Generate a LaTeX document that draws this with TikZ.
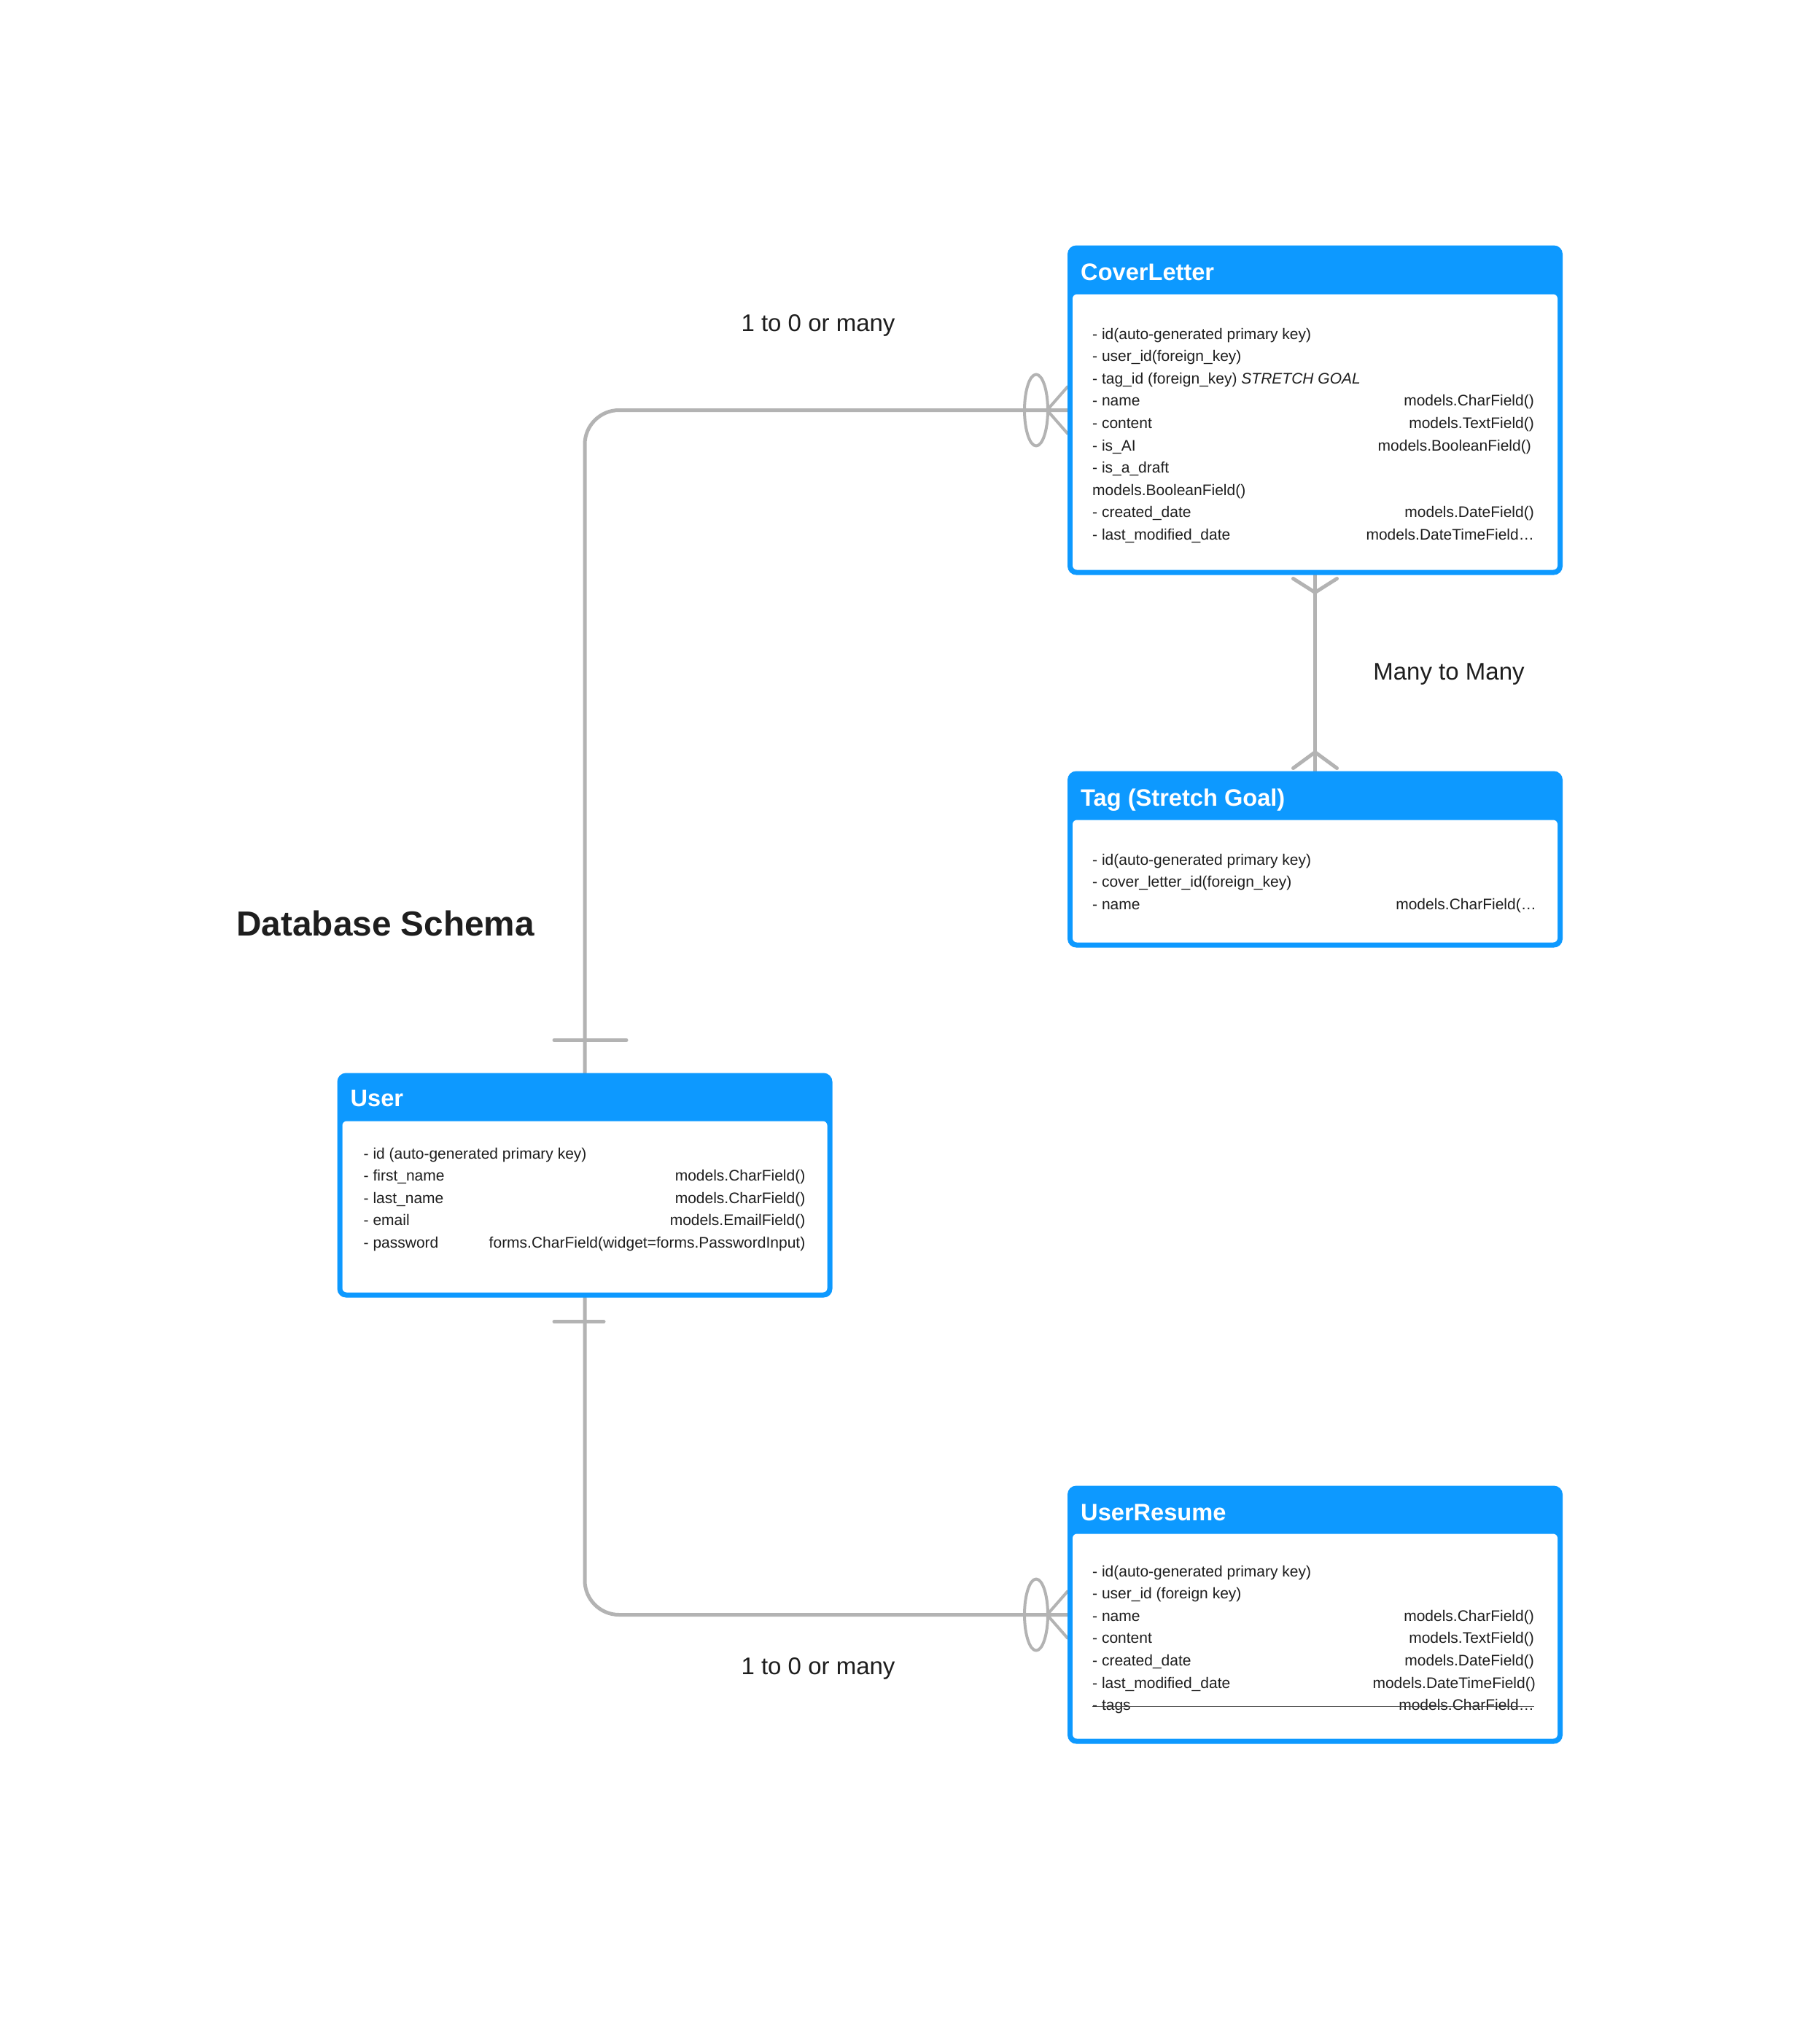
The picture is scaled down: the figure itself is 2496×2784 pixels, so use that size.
\documentclass[tikz,border=0pt]{standalone}
\usepackage{fontspec}
\setmainfont{Liberation Sans}
\usetikzlibrary{positioning,calc,backgrounds}

\definecolor{erblue}{HTML}{0D99FF}
\definecolor{linkgray}{HTML}{B3B3B3}
\definecolor{inkblack}{HTML}{1E1E1E}

\tikzset{
    table/.style={rectangle, fill=erblue, rounded corners=12pt, inner sep=0, outer sep=0, minimum width=679pt},
    table title/.style={anchor=base west, inner sep=0, text=white, font=\fontsize{32.6}{36}\selectfont\bfseries},
    field/.style={anchor=west, inner sep=0, text=inkblack, text height=22.6pt, text depth=7.6pt, font=\fontsize{21}{30}\selectfont},
    next field/.style={field, below right=0pt and 0pt of #1.south west},
    ftype/.style={field, anchor=east},
    link/.style={draw=linkgray, line width=5pt, line cap=round, line join=round},
    note/.style={text=inkblack, font=\fontsize{33}{40}\selectfont}
    }

\begin{document}
\begin{tikzpicture}[x=1pt, y=-1pt]
                \useasboundingbox (0,0) rectangle (2496,2784);

                % tables
                \node(cover)[table, minimum height=452pt] at (1803.5,562.5) {};
                \fill[white, rounded corners=6pt] ($(cover.north west)+(7,67)$) rectangle ($(cover.south east)+(-7,-7)$);
                \node[table title] at ($(cover.north west)+(18,48)$) {CoverLetter};
                \node[field] (cl1) at ($(cover.north west)+(34,121)$) {- id(auto-generated primary key)};
                \node[next field=cl1] (cl2) {- user\_id(foreign\_key)};
                \node[next field=cl2] (cl3) {- tag\_id (foreign\_key) \textit{STRETCH GOAL}};
                \node[next field=cl3] (cl4) {- name};
                \node[next field=cl4] (cl5) {- content};
                \node[next field=cl5] (cl6) {- is\_AI};
                \node[next field=cl6] (cl7) {- is\_a\_draft};
                \node[next field=cl7] (cl8) {models.BooleanField()};
                \node[next field=cl8] (cl9) {- created\_date};
                \node[next field=cl9] (cl10) {- last\_modified\_date};
                \node[ftype, xshift=-39pt] at (cover.east |- cl4) {models.CharField()};
                \node[ftype, xshift=-39pt] at (cover.east |- cl5) {models.TextField()};
                \node[ftype, xshift=-43pt] at (cover.east |- cl6) {models.BooleanField()};
                \node[ftype, xshift=-39pt] at (cover.east |- cl9) {models.DateField()};
                \node[ftype, xshift=-39pt] at (cover.east |- cl10) {models.DateTimeField…};

                \node(tag)[table, minimum height=242pt] at (1803.5,1178.5) {};
                \fill[white, rounded corners=6pt] ($(tag.north west)+(7,67)$) rectangle ($(tag.south east)+(-7,-7)$);
                \node[table title] at ($(tag.north west)+(18,48)$) {Tag (Stretch Goal)};
                \node[field] (tg1) at ($(tag.north west)+(34,121)$) {- id(auto-generated primary key)};
                \node[next field=tg1] (tg2) {- cover\_letter\_id(foreign\_key)};
                \node[next field=tg2] (tg3) {- name};
                \node[ftype, xshift=-36pt] at (tag.east |- tg3) {models.CharField(…};

                \node(user)[table, minimum height=308pt] at (802,1625.5) {};
                \fill[white, rounded corners=6pt] ($(user.north west)+(7,66)$) rectangle ($(user.south east)+(-7,-7)$);
                \node[table title] at ($(user.north west)+(18,46)$) {User};
                \node[field] (us1) at ($(user.north west)+(36,110)$) {- id (auto-generated primary key)};
                \node[next field=us1] (us2) {- first\_name};
                \node[next field=us2] (us3) {- last\_name};
                \node[next field=us3] (us4) {- email};
                \node[next field=us4] (us5) {- password};
                \node[ftype, xshift=-37pt] at (user.east |- us2) {models.CharField()};
                \node[ftype, xshift=-37pt] at (user.east |- us3) {models.CharField()};
                \node[ftype, xshift=-37pt] at (user.east |- us4) {models.EmailField()};
                \node[ftype, xshift=-37pt] at (user.east |- us5) {forms.CharField(widget=forms.PasswordInput)};

                \node(resume)[table, minimum height=354pt] at (1803.5,2214.5) {};
                \fill[white, rounded corners=6pt] ($(resume.north west)+(7,66)$) rectangle ($(resume.south east)+(-7,-7)$);
                \node[table title] at ($(resume.north west)+(18,48)$) {UserResume};
                \node[field] (ur1) at ($(resume.north west)+(34,117)$) {- id(auto-generated primary key)};
                \node[next field=ur1] (ur2) {- user\_id (foreign key)};
                \node[next field=ur2] (ur3) {- name};
                \node[next field=ur3] (ur4) {- content};
                \node[next field=ur4] (ur5) {- created\_date};
                \node[next field=ur5] (ur6) {- last\_modified\_date};
                \node[next field=ur6] (ur7) {- tags};
                \node[ftype, xshift=-39pt] at (resume.east |- ur3) {models.CharField()};
                \node[ftype, xshift=-39pt] at (resume.east |- ur4) {models.TextField()};
                \node[ftype, xshift=-39pt] at (resume.east |- ur5) {models.DateField()};
                \node[ftype, xshift=-37pt] at (resume.east |- ur6) {models.DateTimeField()};
                \node[ftype, xshift=-39pt] (ur7t) at (resume.east |- ur7) {models.CharField…};
                \draw[inkblack!85, line width=1pt] ([yshift=-2pt]ur7.west) -- ([yshift=-2pt]ur7t.east);

                % labels
                \node[note] (schema) at (321,1266) [anchor=west, font=\fontsize{47.7}{52}\selectfont\bfseries] {Database Schema};
                \node[note] (topnote) at (1122,446) {1 to 0 or many};
                \node[note] (midnote) at (1987,925) {Many to Many};
                \node[note] (lownote) at (1122,2288) {1 to 0 or many};

                % relations
                \begin{scope}[on background layer]
                \fill[white] (0,0) rectangle (2496,2784);
                \draw[link, rounded corners=47pt] (user.north) |- (cover.west);
                \draw[link] ($(user.north)+(-42,-45)$) -- ($(user.north)+(57,-45)$);
                \draw[link, line width=4pt] ($(cover.west)+(-43,0)$) ellipse [x radius=16pt, y radius=49pt];
                \draw[link, line width=4pt] ($(cover.west)+(0,-32)$) -- ($(cover.west)+(-28,0)$) -- ($(cover.west)+(0,32)$);

                \draw[link, rounded corners=47pt] (user.south) |- (resume.west);
                \draw[link] ($(user.south)+(-42,33)$) -- ($(user.south)+(26,33)$);
                \draw[link, line width=4pt] ($(resume.west)+(-43,0)$) ellipse [x radius=16pt, y radius=49pt];
                \draw[link, line width=4pt] ($(resume.west)+(0,-32)$) -- ($(resume.west)+(-28,0)$) -- ($(resume.west)+(0,32)$);

                \draw[link] (cover.south) -- (tag.north);
                \draw[link] ($(cover.south)+(-30,5)$) -- ($(cover.south)+(0,24)$) -- ($(cover.south)+(30,5)$);
                \draw[link] ($(tag.north)+(-30,-4)$) -- ($(tag.north)+(0,-26)$) -- ($(tag.north)+(30,-4)$);
                \end{scope}
            \end{tikzpicture}
\end{document}
